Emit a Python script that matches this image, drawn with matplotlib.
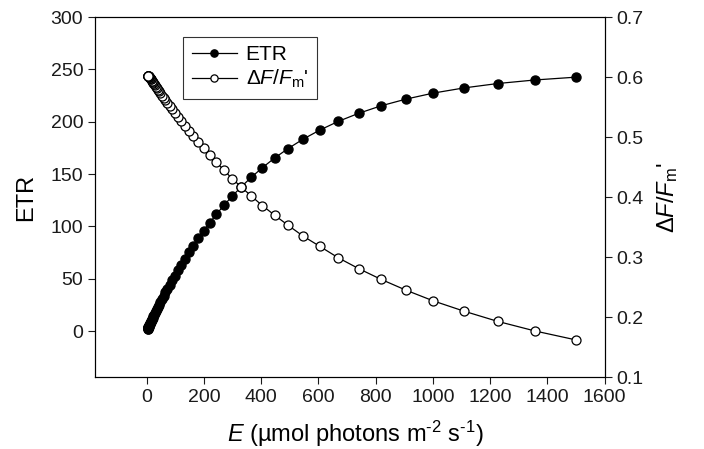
import matplotlib

matplotlib.use('agg')
import matplotlib.pyplot as plt

plt.rcParams['font.family'] = ['Liberation Sans', 'DejaVu Sans']
plt.rcParams['mathtext.fontset'] = 'custom'
plt.rcParams['mathtext.rm'] = 'Liberation Sans'
plt.rcParams['mathtext.it'] = 'Liberation Sans:italic'
plt.rcParams['mathtext.default'] = 'it'

# irradiance (umol photons m-2 s-1)
E = [1500, 1356, 1225.8, 1108.2, 1001.8, 905.6, 818.7, 740.1, 669.0, 604.8,
     546.7, 494.3, 446.8, 403.9, 365.1, 330.1, 298.4, 269.8, 243.9, 220.5,
     199.3, 180.2, 162.9, 147.2, 133.1, 120.3, 108.8, 98.3, 88.9, 80.4,
     72.6, 65.7, 59.4, 53.7, 48.5, 43.9, 39.7, 35.8, 32.4, 29.3,
     26.5, 23.9, 21.6, 19.6, 17.7, 16.0, 14.5, 13.1, 11.8, 10.7,
     9.7, 8.7, 7.9, 7.1, 6.4, 5.8, 5.3, 4.8, 4.3, 3.9, 3.5]

ETR = [242.6, 239.9, 236.5, 232.3, 227.4, 221.6, 215.2, 208.0, 200.3, 192.0,
       183.4, 174.4, 165.3, 156.0, 146.8, 137.7, 128.7, 120.1, 111.6, 103.6,
       95.9, 88.6, 81.6, 75.1, 69.0, 63.3, 58.0, 53.1, 48.5, 44.3,
       40.4, 36.9, 33.6, 30.6, 27.8, 25.3, 23.0, 20.8, 18.9, 17.2,
       15.6, 14.1, 12.8, 11.6, 10.5, 9.5, 8.7, 7.8, 7.1, 6.4,
       5.8, 5.2, 4.8, 4.3, 3.9, 3.5, 3.2, 2.9, 2.6, 2.4, 2.1]

yield_ = [0.162, 0.177, 0.193, 0.210, 0.227, 0.245, 0.263, 0.281, 0.299, 0.318,
          0.335, 0.353, 0.370, 0.386, 0.402, 0.417, 0.431, 0.445, 0.458, 0.470,
          0.481, 0.491, 0.501, 0.510, 0.519, 0.526, 0.533, 0.540, 0.546, 0.551,
          0.557, 0.561, 0.565, 0.569, 0.573, 0.576, 0.579, 0.582, 0.584, 0.586,
          0.588, 0.590, 0.592, 0.593, 0.594, 0.596, 0.597, 0.598, 0.599, 0.599,
          0.600, 0.600, 0.600, 0.601, 0.601, 0.601, 0.601, 0.602, 0.602, 0.602, 0.602]

fig = plt.figure(figsize=(7.04, 4.49), dpi=100)
ax = fig.add_axes([0.135, 0.160, 0.724, 0.802])
ax2 = ax.twinx()

l1, = ax.plot(E, ETR, color='black', lw=0.9, marker='o', ms=6.5,
              mfc='black', mec='black', label='ETR')
l2, = ax2.plot(E, yield_, color='black', lw=0.9, marker='o', ms=6.5,
               mfc='white', mec='black', mew=0.9,
               label=r"$\Delta F/F_{\mathrm{m}}$'")

ax.set_xlim(-180, 1600)
ax.set_ylim(-44, 300)
ax2.set_ylim(0.1, 0.7)
ax.set_xticks(range(0, 1601, 200))
ax.set_yticks(range(0, 301, 50))
ax2.set_yticks([0.1, 0.2, 0.3, 0.4, 0.5, 0.6, 0.7])
ax2.set_yticklabels(['0.1', '0.2', '0.3', '0.4', '0.5', '0.6', '0.7'])

for a in (ax, ax2):
    a.tick_params(direction='out', length=5, width=0.8, labelsize=14, colors='#1a1a1a')
    for s in a.spines.values():
        s.set_linewidth(0.8)

ax.set_ylabel('ETR', fontsize=17, labelpad=10)
ax2.set_ylabel(r"$\Delta F/F_{\mathrm{m}}$'", fontsize=17, labelpad=8)
ax.set_xlabel("$E$ (µmol photons m$^{\mathrm{\u20102}}$ s$^{\mathrm{\u20101}}$)", fontsize=17)
ax.xaxis.set_label_coords(0.51, -0.115)

leg = ax.legend(handles=[l1, l2], loc='upper left', bbox_to_anchor=(0.173, 0.946),
                borderaxespad=0, fontsize=15, frameon=True, fancybox=False,
                edgecolor='black', handlelength=2.2, borderpad=0.4,
                labelspacing=0.2, handletextpad=0.4, markerscale=0.8)
leg.get_frame().set_linewidth(0.8)
leg.set_zorder(5)

fig.savefig('out.png', dpi=100)
